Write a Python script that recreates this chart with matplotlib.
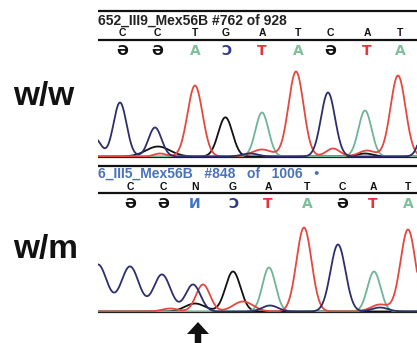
import numpy as np
import matplotlib
matplotlib.use("Agg")
import matplotlib.pyplot as plt
from matplotlib.patches import FancyArrow

# ---------------- data ----------------
row_labels = ["w/w", "w/m"]
titles = ["652_III9_Mex56B #762 of 928", "6_III5_Mex56B   #848   of   1006   \u2022"]
calls_top = [list("CCTGATCAT"), list("CCNGATCAT")]
# complement strand shown mirrored
calls_bottom = [["\u018F", "\u018F", "A", "\u0186", "T", "A", "\u018F", "T", "A"],
                ["\u018F", "\u018F", "\u0418", "\u0186", "T", "A", "\u018F", "T", "A"]]
bottom_colors = [["k", "k", "g", "b", "r", "g", "k", "r", "g"],
                 ["k", "k", "n", "b", "r", "g", "k", "r", "g"]]
call_pos = [[122, 157, 195, 226, 262, 298, 330, 367, 400],
            [130, 163, 195, 233, 268, 307, 342, 373, 408]]

# peaks per channel: (position, height, sigma)
peaks_ww = {
    "C": [(95, 18, 6), (120, 54, 6.5), (155, 29, 6.5), (328, 64, 7), (430, 60, 7), (250, 3, 8)],
    "G": [(158, 10, 12), (225, 37, 7), (230, 3, 6), (365, 3, 8)],
    "T": [(160, 3, 6), (195, 71, 7.5), (262, 7, 10), (296, 85, 7.5), (333, 8, 7), (367, 6, 8), (398, 81, 7.5)],
    "A": [(262, 44, 6.5), (365, 46, 6.5)],
}
peaks_wm = {
    "C": [(98, 47, 9), (130, 45, 9), (162, 37, 8.5), (193, 27, 7.5), (270, 6, 8), (338, 67, 7.5), (380, 4, 8)],
    "G": [(195, 8, 10), (233, 40, 7.5)],
    "T": [(170, 3, 8), (203, 27, 7), (243, 10, 10), (304, 84, 7.5), (380, 7, 9), (408, 82, 7.5)],
    "A": [(269, 44, 6.5), (374, 40, 6.5)],
}
all_peaks = [peaks_ww, peaks_wm]

# ---------------- style ----------------
W, H = 417, 343
chan_colors = {"C": "#2c2f6b", "G": "#111111", "T": "#e4483f", "A": "#6fb496"}
txt_colors = {"k": "#111111", "g": "#7fbf9c", "b": "#2c3a8c", "r": "#e5343a", "n": "#3f73c4"}
title_colors = ["#222222", "#4a72b8"]

fig = plt.figure(figsize=(W / 100, H / 100), dpi=100)
ov = fig.add_axes([0, 0, 1, 1])
ov.set_xlim(0, W)
ov.set_ylim(H, 0)
ov.axis("off")

x_left = 98
baselines = [157, 312]
top_lines = [10.5, 165.5]
title_y = [25, 178]
call_y = [36, 190.5]
mid_line = [39.5, 193]
mirror_y = [55, 208]
label_y = [105, 258]

for i in range(2):
    ov.plot([x_left, W], [top_lines[i]] * 2, color="#111", lw=1.6, solid_capstyle="butt")
    ov.plot([x_left, W], [mid_line[i]] * 2, color="#111", lw=1.6, solid_capstyle="butt")
    ov.plot([x_left, W], [baselines[i]] * 2, color="#222", lw=1.6, solid_capstyle="butt")
    ov.text(x_left, title_y[i], titles[i], fontsize=10, color=title_colors[i],
            family="Liberation Sans", weight="bold", va="baseline", ha="left")
    for x, c in zip(call_pos[i], calls_top[i]):
        ov.text(x, call_y[i], c, fontsize=7.5, family="Liberation Sans", weight="bold",
                color="#111", ha="center", va="baseline")
    for x, c, col in zip(call_pos[i], calls_bottom[i], bottom_colors[i]):
        ov.text(x, mirror_y[i], c, fontsize=10, family="DejaVu Sans", weight="bold",
                color=txt_colors[col], ha="center", va="baseline")
    ov.text(13, label_y[i], row_labels[i], fontsize=24, family="Liberation Sans",
            weight="bold", color="#111", ha="left", va="baseline")

# traces
xs = np.linspace(x_left, W, 900)
for i, pk in enumerate(all_peaks):
    b = baselines[i]
    ax = fig.add_axes([x_left / W, (H - b) / H, (W - x_left) / W, 100 / H])
    ax.set_xlim(x_left, W)
    ax.set_ylim(0, 100)
    ax.axis("off")
    for ch in ["G", "A", "T", "C"]:
        y = np.zeros_like(xs)
        for c, h, s in pk[ch]:
            y += h * np.exp(-0.5 * ((xs - c) / s) ** 2)
        ax.plot(xs, y + 0.5, color=chan_colors[ch], lw=1.3)

# arrow marking the mutation
ov.add_patch(FancyArrow(198, 343, 0, -21, width=6.5, head_width=22, head_length=12,
                        length_includes_head=True, color="#111", lw=0))

fig.savefig("out.png", dpi=100, facecolor="white")
